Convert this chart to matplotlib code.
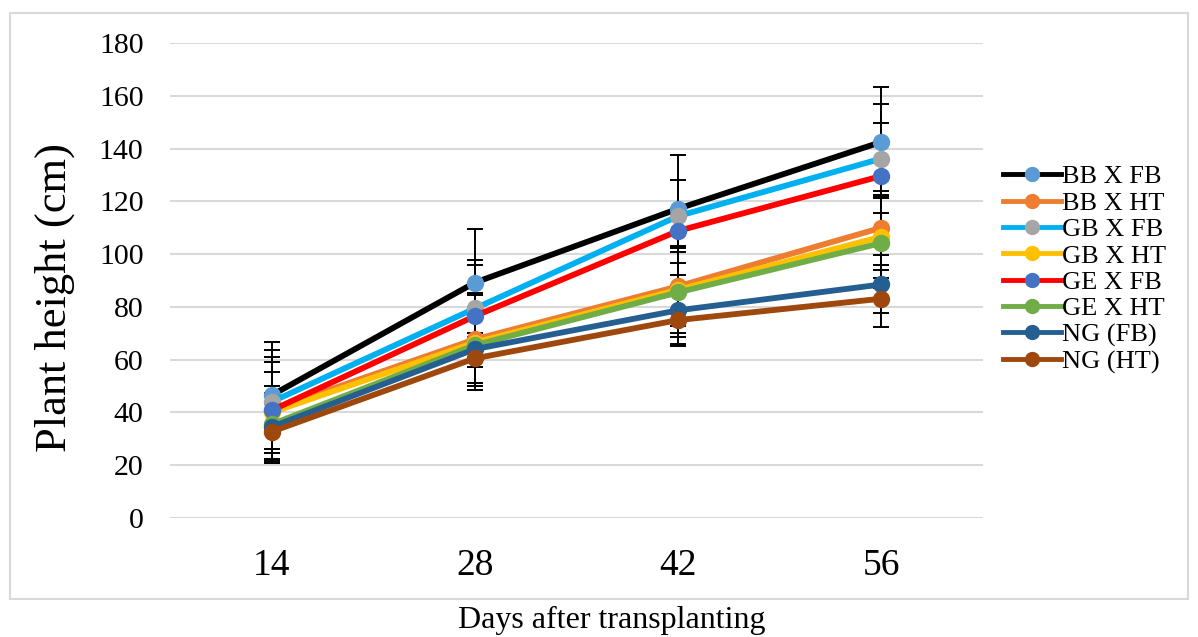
import numpy as np
import matplotlib
matplotlib.use("Agg")
import matplotlib.pyplot as plt
from matplotlib.patches import Rectangle

plt.rcParams['font.family'] = ['Liberation Serif', 'DejaVu Serif']

days = ['14', '28', '42', '56']
series = ['BB X FB', 'BB X HT', 'GB X FB', 'GB X HT',
          'GE X FB', 'GE X HT', 'NG (FB)', 'NG (HT)']

# mean plant height (cm) per series at each day
bb_fb = [46.5, 89.2, 117.2, 142.5]
bb_ht = [41.0, 67.7, 87.8, 110.0]
gb_fb = [44.0, 79.4, 114.4, 136.2]
gb_ht = [40.0, 66.5, 86.5, 106.6]
ge_fb = [40.8, 76.5, 108.8, 129.6]
ge_ht = [35.5, 65.5, 85.5, 104.2]
ng_fb = [34.5, 64.0, 78.7, 88.5]
ng_ht = [32.7, 60.5, 75.0, 83.1]

# error bar half-lengths
err_bb_fb = [20.3, 20.5, 20.5, 20.8]
err_bb_ht = [20.0, 17.5, 15.0, 14.0]
err_gb_fb = [19.5, 18.5, 13.7, 20.7]
err_gb_ht = [19.0, 18.0, 16.5, 15.8]
err_ge_fb = [14.5, 19.4, 6.0, 20.0]
err_ge_ht = [14.5, 14.5, 17.0, 17.0]
err_ng_fb = [13.0, 13.0, 13.5, 11.0]
err_ng_ht = [10.5, 9.5, 9.0, 10.7]

values = [bb_fb, bb_ht, gb_fb, gb_ht, ge_fb, ge_ht, ng_fb, ng_ht]
errors = [err_bb_fb, err_bb_ht, err_gb_fb, err_gb_ht,
          err_ge_fb, err_ge_ht, err_ng_fb, err_ng_ht]

line_colors = ['#000000', '#ED7D31', '#00B0F0', '#FFC000',
               '#FF0000', '#70AD47', '#255E91', '#9E480E']
marker_colors = ['#5B9BD5', '#ED7D31', '#A5A5A5', '#FFC000',
                 '#4472C4', '#70AD47', '#255E91', '#9E480E']

fig = plt.figure(figsize=(11.98, 6.37), dpi=100)
ax = fig.add_axes([170/1198, 1 - 518/637, 813/1198, 475/637])

x = np.arange(len(days))
for i in range(len(series)):
    ax.errorbar(x, values[i], yerr=errors[i], fmt='none', ecolor='black',
                elinewidth=1.4, capsize=5.5, capthick=1.4, zorder=3)
    ax.plot(x, values[i], color=line_colors[i], lw=4.2, marker='o',
            markersize=11.5, markerfacecolor=marker_colors[i],
            markeredgecolor=marker_colors[i], label=series[i], zorder=4 + i * 0.01)

ax.set_xlim(-0.5, len(days) - 0.5)
ax.set_ylim(0, 180)
ax.set_yticks(np.arange(0, 181, 20))
ax.set_xticks(x)
ax.set_xticklabels(days)
ax.tick_params(axis='y', length=0, labelsize=21.5, pad=19)
ax.tick_params(axis='x', length=0, labelsize=27, pad=22)
ax.grid(axis='y', color='#d9d9d9', lw=1.5)
ax.set_axisbelow(True)
for s in ax.spines.values():
    s.set_visible(False)

fig.text(55/1198, 1 - 298/637, 'Plant height (cm)', fontsize=32,
         rotation=90, ha='center', va='center')
fig.text(612/1198, 1 - 620/637, 'Days after transplanting', fontsize=23,
         ha='center', va='center')

leg = ax.legend(loc='upper left', bbox_to_anchor=(1003/1198, 1 - 165/637),
                bbox_transform=fig.transFigure, frameon=False, fontsize=19,
                handlelength=2.2, handletextpad=0.05, labelspacing=0.11,
                borderaxespad=0, borderpad=0)
for h in leg.legend_handles:
    h.set_markersize(10)
    h.set_linewidth(3.5)

fig.patches.append(Rectangle((10/1198, 1 - 599/637), 1178/1198, 586/637,
                             transform=fig.transFigure, fill=False,
                             edgecolor='#d9d9d9', lw=1.5))

fig.savefig('out.png', dpi=100)
